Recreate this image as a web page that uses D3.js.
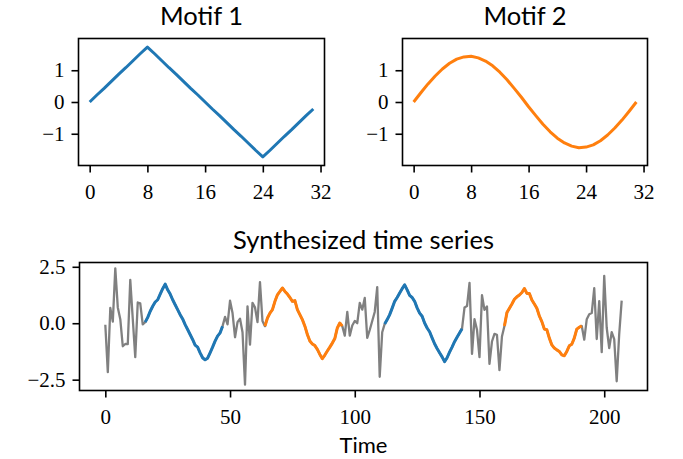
<!DOCTYPE html>
<html>
<head>
<meta charset="utf-8">
<script src="https://cdnjs.cloudflare.com/ajax/libs/d3/7.8.5/d3.min.js"></script>
<style>
  body { margin: 0; background: #fff; }
  .tick text { font-family: "Liberation Serif", serif; font-size: 21px; fill: #000; }
  .title { font-family: "Lato", sans-serif; font-size: 25.5px; fill: #000; }
</style>
</head>
<body>
<div id="chart"></div>
<script>
// Data
var motifIndex = d3.range(32);

var motif1 = [0, 0.22, 0.43, 0.65, 0.87, 1.08, 1.3, 1.52, 1.73, 1.52, 1.3, 1.08, 0.87, 0.65, 0.43, 0.22,
    0, -0.22, -0.43, -0.65, -0.87, -1.08, -1.3, -1.52, -1.73, -1.52, -1.3, -1.08, -0.87, -0.65, -0.43, -0.22];

var motif2 = [0, 0.29, 0.57, 0.82, 1.04, 1.22, 1.35, 1.42, 1.44, 1.39, 1.29, 1.14, 0.94, 0.7, 0.43, 0.15,
    -0.15, -0.43, -0.7, -0.94, -1.14, -1.29, -1.39, -1.44, -1.42, -1.35, -1.22, -1.04, -0.82, -0.57, -0.29, 0];

var series = [
    // noise
    -0.07, -2.17, 0.68, 0.07, 2.43, 0.70, 0.18, -1.02, -0.92, -0.93, 1.92, 0.2, -1.50, 0.92, 0.88, -0.05,
    // motif 1
    0.05, 0.26, 0.53, 0.75, 0.94, 1.04, 1.29, 1.53, 1.73, 1.48, 1.29, 1.04, 0.82, 0.60, 0.38, 0.19,
    -0.06, -0.28, -0.50, -0.72, -0.97, -1.06, -1.31, -1.53, -1.62, -1.55, -1.31, -1.06, -0.79, -0.57, -0.43, -0.13,
    // noise
    0.28, -0.05, 1.00, 0.45, -0.62, 0.05, 0.20, -0.40, -2.72, 0.75, -0.95, 0.90, 0.70, 0.05, 1.82, 0.10,
    // motif 2
    -0.13, 0.23, 0.45, 0.60, 0.97, 1.26, 1.41, 1.56, 1.41, 1.29, 1.14, 0.97, 1.00, 0.60, 0.38, 0.16,
    -0.13, -0.50, -0.79, -0.92, -0.99, -1.16, -1.38, -1.57, -1.41, -1.23, -1.06, -0.88, -0.68, -0.21, 0.01, -0.13,
    // noise
    -0.55, 0.50, -0.55, -0.10, 0.10, 0.00, 0.90, 0.60, 1.12, -0.65, -0.30, 0.10, 0.50, 1.60, -2.37, -0.40,
    // motif 1
    -0.03, 0.16, 0.38, 0.67, 0.97, 1.14, 1.34, 1.53, 1.70, 1.48, 1.23, 1.14, 0.97, 0.68, 0.45, 0.31,
    0.01, -0.21, -0.38, -0.65, -0.91, -1.12, -1.31, -1.49, -1.70, -1.53, -1.28, -1.06, -0.82, -0.62, -0.43, -0.24,
    // noise
    0.70, 0.76, 1.79, -1.36, 0.18, -0.29, -1.50, 1.24, 0.59, 0.74, -1.80, -0.81, -0.47, -0.51, -2.08, -0.59,
    // motif 2
    -0.12, 0.47, 0.66, 0.85, 1.06, 1.17, 1.25, 1.36, 1.54, 1.32, 1.32, 1.03, 0.85, 0.66, 0.32, 0.07,
    -0.26, -0.29, -0.66, -0.96, -1.10, -1.18, -1.25, -1.40, -1.44, -1.25, -1.00, -0.93, -0.66, -0.26, -0.18, -0.12,
    // noise
    -0.73, 0.18, 0.40, 0.45, 1.55, -0.70, 0.98, -1.28, 2.10, -0.20, -1.10, -0.40, -0.70, -2.57, -0.50, 1.00
];

var motif1Starts = [16, 112];
var motif2Starts = [64, 160];
var motifLength = 32;

var motifTicks = [0, 8, 16, 24, 32];
var motifYTicks = [-1, 0, 1];
var seriesTicks = [0, 50, 100, 150, 200];
var seriesYTicks = [-2.5, 0, 2.5];

var titles = ["Motif 1", "Motif 2", "Synthesized time series"];
var xLabel = "Time";

// SVG wrapper
var svgWidth = 683;
var svgHeight = 459;

var svg = d3.select("#chart")
    .append("svg")
    .attr("width", svgWidth)
    .attr("height", svgHeight);

var blue = "#1f77b4";
var orange = "#ff7f0e";
var grey = "#808080";

// draws one framed panel and returns its scales
function panel(box, xDomain, yDomain, xTicks, yTicks, yFormat, title) {
    var x = d3.scaleLinear().domain(xDomain).range([box.left, box.right]);
    var y = d3.scaleLinear().domain(yDomain).range([box.bottom, box.top]);

    var xAxis = svg.append("g")
        .attr("transform", `translate(0, ${box.bottom})`)
        .call(d3.axisBottom(x).tickValues(xTicks).tickSize(7).tickPadding(12).tickFormat(d3.format("d")));

    var yAxis = svg.append("g")
        .attr("transform", `translate(${box.left}, 0)`)
        .call(d3.axisLeft(y).tickValues(yTicks).tickSize(7).tickPadding(7)
            .tickFormat(d => yFormat(d).replace("-", "\u2212")));

    [xAxis, yAxis].forEach(function(g) {
        g.select(".domain").remove();
        g.selectAll(".tick line").attr("stroke", "#000").attr("stroke-width", 1.6);
    });

    svg.append("rect")
        .attr("x", box.left)
        .attr("y", box.top)
        .attr("width", box.right - box.left)
        .attr("height", box.bottom - box.top)
        .attr("fill", "none")
        .attr("stroke", "#000")
        .attr("stroke-width", 1.6);

    svg.append("text")
        .attr("class", "title")
        .attr("x", (box.left + box.right) / 2)
        .attr("y", box.top - 14)
        .attr("text-anchor", "middle")
        .text(title);

    return {x: x, y: y};
}

function drawLine(s, xs, ys, color, width) {
    var line = d3.line()
        .x(d => s.x(d[0]))
        .y(d => s.y(d[1]));
    svg.append("path")
        .datum(d3.zip(xs, ys))
        .attr("d", line)
        .attr("fill", "none")
        .attr("stroke", color)
        .attr("stroke-width", width)
        .attr("stroke-linejoin", "round");
}

// Top panels
var p1 = panel({left: 78.5, right: 324.5, top: 38.5, bottom: 165.5}, [-1.55, 32.55], [-2, 2],
    motifTicks, motifYTicks, d3.format("d"), titles[0]);
drawLine(p1, motifIndex, motif1, blue, 3);

var p2 = panel({left: 402.5, right: 647.5, top: 38.5, bottom: 165.5}, [-1.55, 32.55], [-2, 2],
    motifTicks, motifYTicks, d3.format("d"), titles[1]);
drawLine(p2, motifIndex, motif2, orange, 3);

// Bottom panel
var p3 = panel({left: 79.5, right: 647.5, top: 262.5, bottom: 390.5}, [-10.35, 217.35], [-2.98, 2.69],
    seriesTicks, seriesYTicks, d3.format(".1f"), titles[2]);

var seriesIndex = d3.range(series.length);
drawLine(p3, seriesIndex, series, grey, 2.3);

motif1Starts.forEach(function(s) {
    drawLine(p3, seriesIndex.slice(s, s + motifLength), series.slice(s, s + motifLength), blue, 3);
});
motif2Starts.forEach(function(s) {
    drawLine(p3, seriesIndex.slice(s, s + motifLength), series.slice(s, s + motifLength), orange, 3);
});

svg.append("text")
    .attr("class", "title")
    .attr("x", (79.5 + 647.5) / 2)
    .attr("y", 453)
    .attr("text-anchor", "middle")
    .style("font-size", "22px")
    .text(xLabel);
</script>
</body>
</html>
